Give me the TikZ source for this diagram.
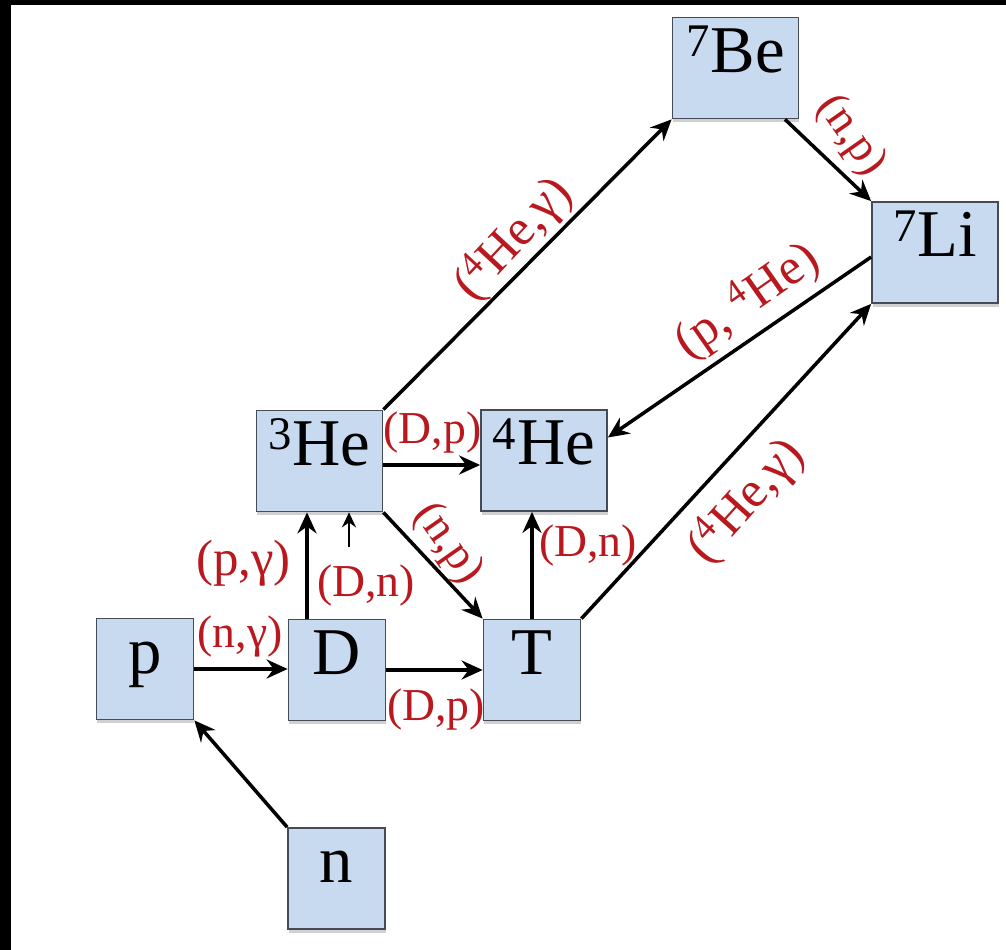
\documentclass[tikz,border=0pt]{standalone}
\usepackage{fontspec}
\setmainfont{Liberation Serif}
\usetikzlibrary{arrows.meta,shadows}
\definecolor{boxfill}{RGB}{200,218,240}
\definecolor{boxline}{RGB}{70,75,85}
\definecolor{rxn}{RGB}{185,25,30}
\tikzset{
  nucl/.style={draw=boxline, line width=1pt, fill=boxfill, inner sep=0pt,
    minimum width=1.94cm, minimum height=2.02cm,
    text height=0.7em, text depth=0.19em, font=\fontsize{38}{40}\selectfont,
    drop shadow={shadow xshift=0.4pt, shadow yshift=-2.2pt, fill=black!30, opacity=0.6}},
  widenucl/.style={nucl, minimum width=2.52cm},
  flow/.style={-{Stealth[length=4.2mm,width=3.8mm,inset=1.4mm]}, line width=2pt, black},
  smallflow/.style={-{Stealth[length=3mm,width=2.8mm,inset=1mm]}, line width=1.5pt, black},
  rxnlab/.style={text=rxn, inner sep=0pt, font=\fontsize{26}{28}\selectfont},
  rxnbig/.style={rxnlab, font=\fontsize{29}{31}\selectfont},
}

\begin{document}
\begin{tikzpicture}
  % --- frame ---
  \useasboundingbox (0,0) rectangle (20.12,18.98);
  \fill[white] (-0.5,-0.5) rectangle (20.62,19.48);
  \fill[black] (-0.5,-0.5) rectangle (0.22,19.48);
  \fill[black] (-0.5,18.88) rectangle (20.62,19.48);

  % --- nuclei ---
  \node[nucl] (p) at (2.90,5.60) {p};
  \node[nucl] (n) at (6.73,1.41) {n};
  \node[nucl] (D) at (6.74,5.58) {D};
  \node[nucl] (T) at (10.64,5.58) {T};
  \node[widenucl] (He3) at (6.39,9.76) {\textsuperscript{3}He};
  \node[widenucl] (He4) at (10.88,9.77) {\textsuperscript{4}He};
  \node[widenucl] (Be7) at (14.71,17.62) {\textsuperscript{7}Be};
  \node[widenucl] (Li7) at (18.70,13.93) {\textsuperscript{7}Li};

  % --- reactions ---
  \draw[flow] (n.north west) -- (p.south east);
  \draw[flow] (p.east) -- (p.east -| D.west);
  \draw[flow] (D.east) -- (D.east -| T.west);
  \draw[flow] ([xshift=-0.6cm]D.north) -- ([xshift=-0.6cm]D.north |- He3.south);
  \coordinate (dd) at (6.98,8.04);
  \draw[smallflow] (dd) -- (dd |- He3.south);
  \draw[flow] ([yshift=-0.08cm]He3.east) -- ([yshift=-0.08cm]He3.east -| He4.west);
  \draw[flow] (He3.south east) -- (T.north west);
  \draw[flow] (T.north) -- (T.north |- He4.south);
  \draw[flow] (T.north east) -- (Li7.south west);
  \draw[flow] ([yshift=-0.09cm]Li7.west) -- ([yshift=0.46cm]He4.east);
  \draw[flow] (He3.north east) -- (Be7.south west);
  \draw[flow] ([xshift=0.99cm]Be7.south) -- (Li7.north west);

  % --- reaction labels ---
  \node[rxnlab] (ng) at (4.80,6.24) {(n,γ)};
  \node[rxnlab] (dp1) at (8.72,4.78) {(D,p)};
  \node[rxnbig] (pg) at (4.87,7.72) {(p,γ)};
  \node[rxnlab] (dn1) at (7.32,7.26) {(D,n)};
  \node[rxnlab] (dp2) at (8.65,10.33) {(D,p)};
  \node[rxnlab, rotate=-55] (np1) at (8.96,8.10) {(n,p)};
  \node[rxnlab] (dn2) at (11.76,8.06) {(D,n)};
  \node[rxnbig, rotate=48] (ag1) at (14.92,8.96) {(\textsuperscript{4}He,γ)};
  \node[rxnbig, rotate=35] (pa) at (14.94,12.96) {(p, \textsuperscript{4}He)};
  \node[rxnbig, rotate=47] (ag2) at (10.26,14.20) {(\textsuperscript{4}He,γ)};
  \node[rxnlab, rotate=-55] (np2) at (17.02,16.26) {(n,p)};
\end{tikzpicture}
\end{document}
